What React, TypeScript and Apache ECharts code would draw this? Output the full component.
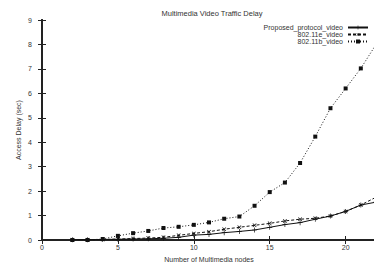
import React, { useEffect, useRef } from "react";
import * as echarts from "echarts";

const nodes = [2, 3, 4, 5, 6, 7, 8, 9, 10, 11, 12, 13, 14, 15, 16, 17, 18, 19, 20, 21, 22];
const proposed = [0.01, 0.01, 0.02, 0.03, 0.04, 0.05, 0.07, 0.11, 0.2, 0.23, 0.3, 0.35, 0.41, 0.52, 0.63, 0.71, 0.85, 0.98, 1.17, 1.43, 1.55];
const e80211 = [0.01, 0.01, 0.02, 0.04, 0.06, 0.08, 0.11, 0.19, 0.27, 0.34, 0.44, 0.52, 0.6, 0.68, 0.78, 0.85, 0.89, 0.98, 1.17, 1.43, 1.75];
const b80211 = [0.0, 0.0, 0.04, 0.17, 0.28, 0.37, 0.49, 0.54, 0.62, 0.72, 0.87, 0.96, 1.4, 1.96, 2.35, 3.15, 4.23, 5.39, 6.2, 7.02, 8.0];
const seriesNames = ["Proposed_protocol_video", "802.11e_video", "802.11b_video"];

const PLUS = "path://M4.3,0H5.7V4.3H10V5.7H5.7V10H4.3V5.7H0V4.3H4.3Z";
const FONT = "Liberation Sans";
const TXT = "#333";

export default function App() {
  const ref = useRef<HTMLDivElement>(null);
  useEffect(() => {
    if (!ref.current) return;
    const chart = echarts.init(ref.current, null, { renderer: "svg" });
    const pairs = (ys: number[]) => nodes.map((n, i) => [n, ys[i]]);
    const axisLine = { show: true, lineStyle: { color: "#222", width: 2 } };
    const tick = { show: true, inside: true, length: 4, lineStyle: { color: "#222" } };
    chart.setOption({
      animation: false,
      textStyle: { fontFamily: FONT },
      title: {
        text: "Multimedia Video Traffic Delay",
        left: 207,
        textAlign: "center",
        top: 4,
        textStyle: { fontSize: 7.5, fontWeight: "normal", color: TXT, fontFamily: FONT },
      },
      legend: {
        orient: "vertical",
        right: 15,
        top: 24,
        align: "right",
        itemGap: 0,
        itemWidth: 20,
        itemHeight: 5,
        padding: 0,
        textStyle: { fontSize: 7, color: TXT, fontFamily: FONT, lineHeight: 6 },
        data: seriesNames,
      },
      grid: { left: 42, right: 8, top: 20, bottom: 29 },
      xAxis: [
        {
          type: "value",
          min: 0,
          max: 22,
          interval: 5,
          name: "Number of Multimedia nodes",
          nameLocation: "middle",
          nameGap: 16,
          nameMoveOverlap: false,
          nameTextStyle: { fontSize: 7, color: TXT, fontFamily: FONT },
          axisLine,
          axisTick: tick,
          axisLabel: { fontSize: 7, color: TXT, margin: 4, showMaxLabel: false, fontFamily: FONT },
          splitLine: { show: false },
        },
        {
          type: "value",
          position: "top",
          min: 0,
          max: 22,
          interval: 5,
          axisLine,
          axisTick: tick,
          axisLabel: { show: false },
          splitLine: { show: false },
        },
      ],
      yAxis: [
        {
          type: "value",
          min: 0,
          max: 9,
          interval: 1,
          name: "Access Delay (sec)",
          nameLocation: "middle",
          nameGap: 20,
          nameMoveOverlap: false,
          nameTextStyle: { fontSize: 7, color: TXT, fontFamily: FONT },
          axisLine,
          axisTick: tick,
          axisLabel: { fontSize: 7, color: TXT, margin: 10, fontFamily: FONT },
          splitLine: { show: false },
        },
        {
          type: "value",
          position: "right",
          min: 0,
          max: 9,
          interval: 1,
          axisLine,
          axisTick: tick,
          axisLabel: { show: false },
          splitLine: { show: false },
        },
      ],
      series: [
        {
          name: seriesNames[0],
          type: "line",
          data: pairs(proposed),
          symbol: PLUS,
          symbolSize: 5,
          lineStyle: { color: "#111", width: 1, type: "solid" },
          itemStyle: { color: "#111" },
        },
        {
          name: seriesNames[1],
          type: "line",
          data: pairs(e80211),
          symbol: PLUS,
          symbolSize: 5,
          symbolRotate: 45,
          lineStyle: { color: "#111", width: 1, type: [3, 2] },
          itemStyle: { color: "#111" },
        },
        {
          name: seriesNames[2],
          type: "line",
          data: pairs(b80211),
          symbol: "rect",
          symbolSize: 4,
          lineStyle: { color: "#111", width: 1, type: [1, 2] },
          itemStyle: { color: "#111" },
        },
      ],
    });
    return () => chart.dispose();
  }, []);
  return (
    <div style={{ position: "fixed", left: 0, top: 0, width: 374, height: 269, overflow: "hidden", background: "#fff" }}>
      <div ref={ref} style={{ width: 384, height: 269 }} />
    </div>
  );
}
